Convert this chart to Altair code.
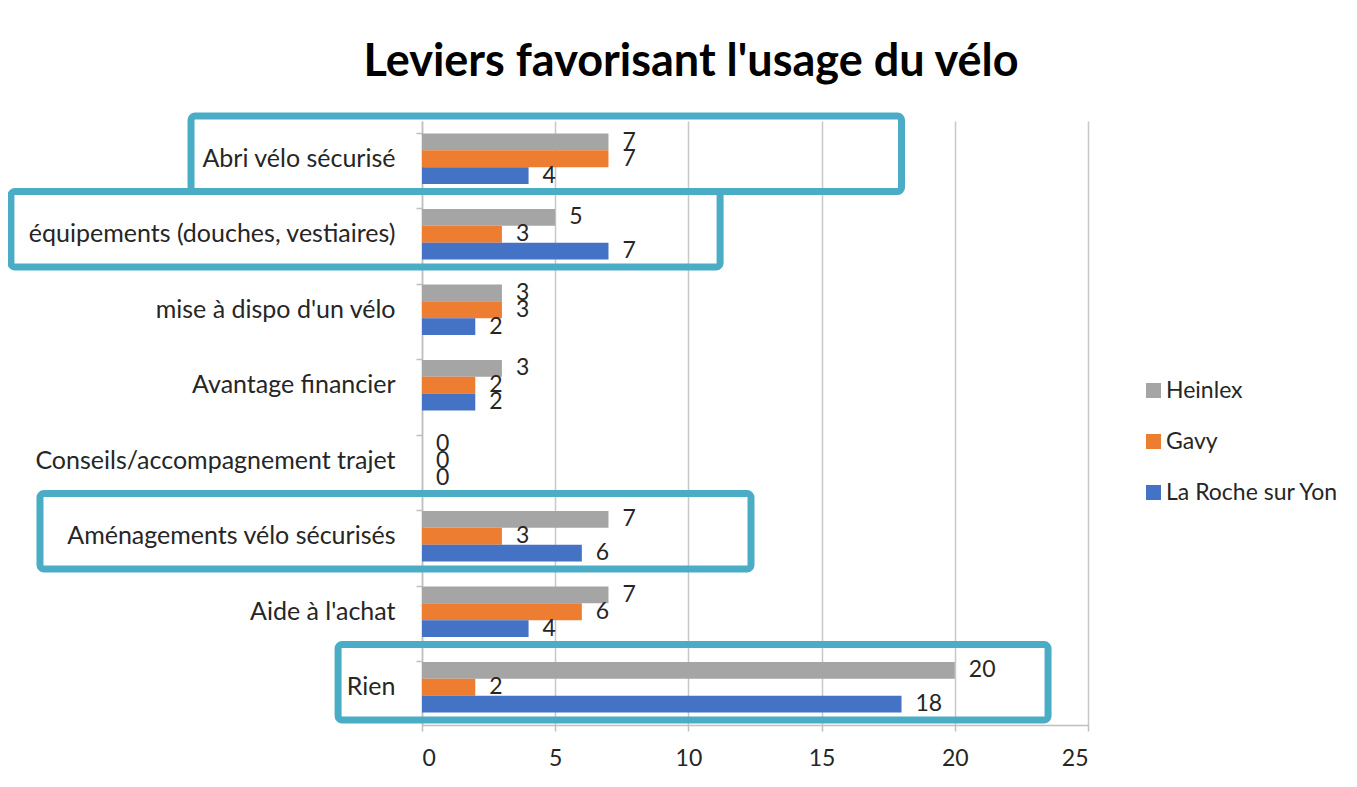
import altair as alt
import pandas as pd

categories = [
    "Abri vélo sécurisé",
    "équipements (douches, vestiaires)",
    "mise à dispo d'un vélo",
    "Avantage financier",
    "Conseils/accompagnement trajet",
    "Aménagements vélo sécurisés",
    "Aide à l'achat",
    "Rien",
]
series_names = ["Heinlex", "Gavy", "La Roche sur Yon"]
heinlex = [7, 5, 3, 3, 0, 7, 7, 20]
gavy = [7, 3, 3, 2, 0, 3, 6, 2]
la_roche = [4, 7, 2, 2, 0, 6, 4, 18]
colors = ["#A5A5A5", "#ED7D31", "#4472C4"]
x_ticks = [0, 5, 10, 15, 20, 25]

# highlighted categories (cyan frames), extents in axis units
highlighted = ["Abri vélo sécurisé", "équipements (douches, vestiaires)",
               "Aménagements vélo sécurisés", "Rien"]
box_start = [-8.67, -15.43, -14.34, -3.15]
box_end = [18.0, 11.19, 12.35, 23.5]

rows = []
for name, vals in zip(series_names, [heinlex, gavy, la_roche]):
    for c, v in zip(categories, vals):
        rows.append({"cat": c, "serie": name, "val": v})
df = pd.DataFrame(rows)
boxes = pd.DataFrame({"cat": highlighted, "x0": box_start, "x1": box_end})

FONT = "Lato"
TXT = "#262626"
xscale = alt.Scale(domain=[0, 25], nice=False, zero=True)
x_axis = alt.Axis(title=None, values=x_ticks, labelFontSize=23, labelFont=FONT,
                  labelColor=TXT, labelPadding=16, tickSize=6, tickColor="#BFBFBF",
                  tickWidth=1.5, domainColor="#BFBFBF", domainWidth=1.5,
                  grid=True, gridColor="#C8C8C8", gridWidth=1.5)

y_enc = alt.Y("cat:N", sort=categories,
              scale=alt.Scale(paddingInner=0.33, paddingOuter=0.165),
              axis=alt.Axis(title=None, labelFontSize=25, labelFont=FONT, labelColor=TXT,
                            labelPadding=21, tickSize=6, tickColor="#BFBFBF", tickWidth=1.5,
                            domainColor="#BFBFBF", domainWidth=1.5, bandPosition=0,
                            labelLimit=600))
yoff = alt.YOffset("serie:N", sort=series_names, scale=alt.Scale(paddingInner=0, paddingOuter=0))

bars = alt.Chart(df).mark_bar().encode(
    x=alt.X("val:Q", scale=xscale, axis=x_axis),
    y=y_enc,
    yOffset=yoff,
    color=alt.Color("serie:N", sort=series_names,
                    scale=alt.Scale(domain=series_names, range=colors),
                    legend=alt.Legend(title=None, orient="none", legendX=720, legendY=258,
                                      symbolType="square", symbolSize=225, symbolStrokeWidth=0,
                                      labelFontSize=23, labelFont=FONT, labelColor=TXT,
                                      labelOffset=1, rowPadding=27, padding=0, labelLimit=400)),
)

labels = alt.Chart(df).mark_text(align="left", baseline="middle", dx=14, fontSize=23,
                                 font=FONT, color=TXT).encode(
    x=alt.X("val:Q", scale=xscale, axis=x_axis),
    y=alt.Y("cat:N", sort=categories),
    yOffset=yoff,
    text="val:Q",
)

base = alt.layer(bars, labels)

frames = alt.Chart(boxes).mark_rect(fillOpacity=0, stroke="#4BACC6", strokeWidth=7,
                                     cornerRadius=4, yOffset=-5, clip=False).encode(
    x=alt.X("x0:Q", scale=xscale, axis=x_axis),
    x2="x1:Q",
    y=alt.Y("cat:N", sort=categories, axis=None,
            scale=alt.Scale(domain=categories, paddingInner=0, paddingOuter=0)),
)

chart = alt.layer(base, frames).resolve_scale(y="independent").properties(
    width=666, height=604,
    background="white",
    title=alt.TitleParams("Leviers favorisant l'usage du vélo", fontSize=45, font=FONT,
                          fontWeight="bold", color="#000000", anchor="middle", dx=-64, offset=28),
    autosize=alt.AutoSizeParams(type="none"),
    padding={"left": 414, "top": 113, "right": 261, "bottom": 54},
).configure_view(stroke=None)

chart.save("out.html", embed_options={"renderer": "svg", "actions": False})
